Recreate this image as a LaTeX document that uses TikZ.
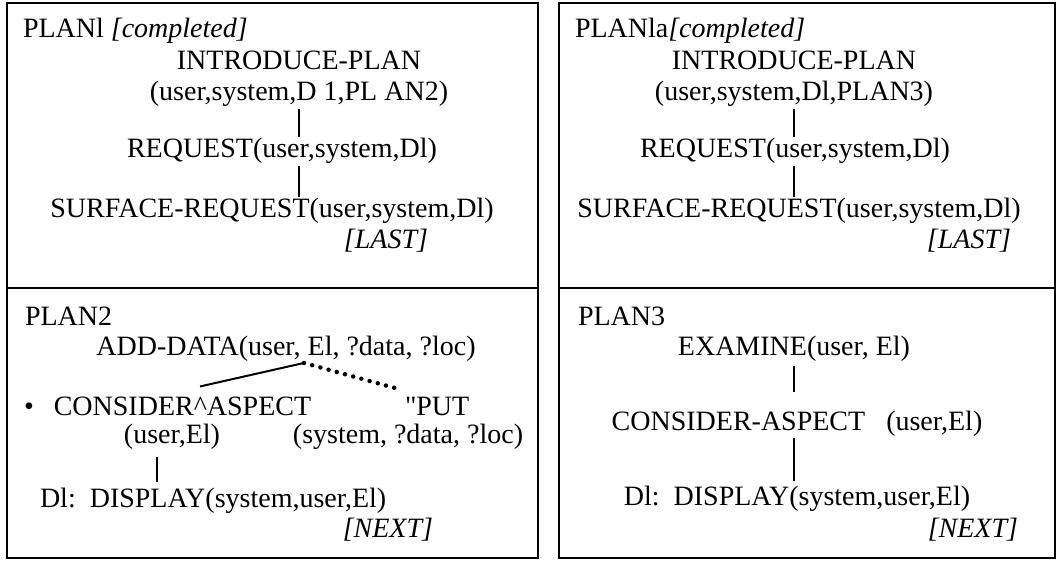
\documentclass[tikz,border=0pt]{standalone}
\usepackage{fontspec}
\setmainfont{Liberation Serif}[Ligatures=TeXOff]
\begin{document}
\begin{tikzpicture}[x=1pt, y=-1pt, inner sep=1pt, line width=2pt,
  font=\fontsize{28}{30}\selectfont,
  planbox/.style={line width=2.8pt},
  twoline/.style={anchor=north, align=center},
  dots/.style={line width=4.5pt, line cap=round, dash pattern=on 0pt off 8.5pt}]
\useasboundingbox (0,0) rectangle (1059,561);
\draw[planbox] (7,3) rectangle (538,288);
\draw[planbox] (7,288) rectangle (538,558);
\draw[planbox] (559,3) rectangle (1055,288);
\draw[planbox] (559,288) rectangle (1055,558);
\node[anchor=base west] (P1_0) at (21,38) {PLANl \textit{[completed]}};
\node[twoline] (P1_1) at (299,49) {INTRODUCE-PLAN\\[1pt](user,system,D 1,PL AN2)};
\node[anchor=base] (P1_3) at (282,158) {REQUEST(user,system,Dl)};
\draw (P1_1.south) -- (P1_1.south |- P1_3.north);
\node[anchor=base] (P1_4) at (272,218) {SURFACE-REQUEST(user,system,Dl)};
\draw (P1_3.south -| P1_1.south) -- (P1_4.north -| P1_1.south);
\node[anchor=base east] (P1_5) at (430,248) {\textit{[LAST]}};
\node[anchor=base west] (P1a_0) at (573,38) {PLANla\textit{[completed]}};
\node[twoline] (P1a_1) at (794,49) {INTRODUCE-PLAN\\[1pt](user,system,Dl,PLAN3)};
\node[anchor=base] (P1a_3) at (795,158) {REQUEST(user,system,Dl)};
\draw (P1a_1.south) -- (P1a_1.south |- P1a_3.north);
\node[anchor=base] (P1a_4) at (799,218) {SURFACE-REQUEST(user,system,Dl)};
\draw (P1a_3.south -| P1a_1.south) -- (P1a_4.north -| P1a_1.south);
\node[anchor=base east] (P1a_5) at (1013,248) {\textit{[LAST]}};
\node[anchor=base west] (P2_0) at (23,325) {PLAN2};
\node[anchor=base] (P2_1) at (286,355) {ADD-DATA(user, El, ?data, ?loc)};
\coordinate (fork) at ([xshift=18pt]P2_1.south);
\node[anchor=base west] (P2_2) at (22,415) {•\hspace{20pt}CONSIDER\textasciicircum ASPECT};
\node[anchor=base] (P2_3) at (172,443) {(user,El)};
\draw (fork) -- ([shift={(178pt,8pt)}]P2_2.north west);
\node[anchor=base west] (P2_4) at (403,415) {"PUT};
\node[anchor=base] (P2_5) at (408,443) {(system, ?data, ?loc)};
\draw[dots] (fork) -- ([shift={(-2pt,5pt)}]P2_4.north west);
\node[anchor=base west] (P2_6) at (38,507) {Dl:\ \ DISPLAY(system,user,El)};
\draw[shorten <=6pt, shorten >=4pt] ([xshift=-15pt]P2_3.south) -- ([xshift=-15pt]P2_3.south |- P2_6.north);
\node[anchor=base east] (P2_7) at (435,537) {\textit{[NEXT]}};
\node[anchor=base west] (P3_0) at (576,325) {PLAN3};
\node[anchor=base] (P3_1) at (794,355) {EXAMINE(user, El)};
\node[anchor=base] (P3_2) at (797,430) {CONSIDER-ASPECT\ \ \ (user,El)};
\draw[shorten <=3pt, shorten >=17pt] (P3_1.south) -- (P3_1.south |- P3_2.north);
\node[anchor=base] (P3_3) at (797,505) {Dl:\ \ DISPLAY(system,user,El)};
\draw[shorten >=3pt] (P3_2.south -| P3_1.south) -- (P3_3.north -| P3_1.south);
\node[anchor=base east] (P3_4) at (1020,537) {\textit{[NEXT]}};
\end{tikzpicture}
\end{document}
